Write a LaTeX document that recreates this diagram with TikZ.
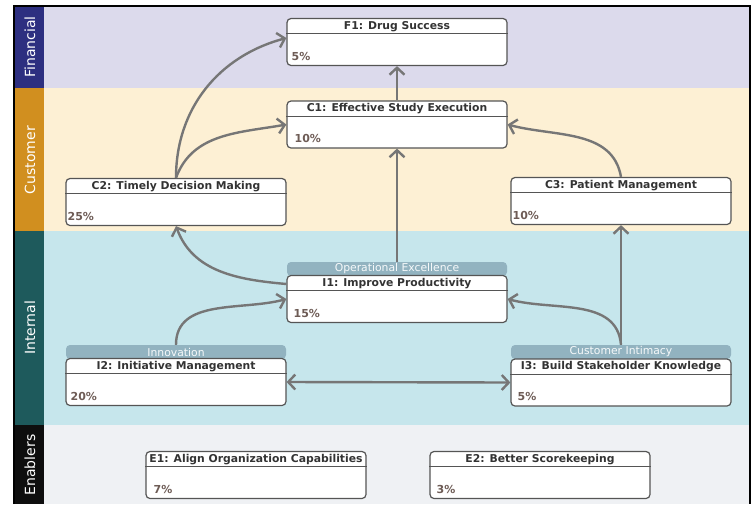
\documentclass[tikz,border=0pt]{standalone}
\usepackage{fontspec}
\setmainfont{DejaVu Sans}
\usetikzlibrary{arrows.meta}

\definecolor{finbg}{HTML}{DCDAEC}
\definecolor{cusbg}{HTML}{FDF0D4}
\definecolor{intbg}{HTML}{C6E6EC}
\definecolor{enabg}{HTML}{EFF1F4}
\definecolor{finbar}{HTML}{2D2F80}
\definecolor{cusbar}{HTML}{D18F1F}
\definecolor{intbar}{HTML}{1E5A5C}
\definecolor{enabar}{HTML}{0E0E0E}
\definecolor{hdrfill}{HTML}{92B3C0}
\definecolor{boxedge}{HTML}{555555}
\definecolor{arrgray}{HTML}{767676}
\definecolor{valtxt}{HTML}{6E5C56}

% one objective: box, title row, value
\newcommand{\kpibox}[6]{%
  \node[kpi] (#1) at (#2,#3) {};
  \draw[boxedge, line width=1pt] ([yshift=-16pt]#1.north west) -- ([yshift=-16pt]#1.north east);
  \node[ttl] (#1t) at ([yshift=-8.5pt]#1.north) {#4};
  \node[val] (#1v) at ([xshift=#6pt,yshift=10pt]#1.south west) {#5};
}

\begin{document}
\begin{tikzpicture}[x=1pt, y=1pt]

        \tikzstyle{every edge}=[
            draw = arrgray,
            line width = 2.4pt,
            -{Straight Barb[length=7pt, width=15pt]}
        ]
        \tikzset{kpi/.style={draw=boxedge, line width=1.2pt, fill=white,
            rounded corners=4pt, minimum width=220pt, minimum height=47pt, inner sep=0pt}}
        \tikzset{ttl/.style={font=\bfseries\fontsize{10.8}{13}\selectfont, text=black!80, inner sep=0pt}}
        \tikzset{val/.style={font=\bfseries\fontsize{11}{13}\selectfont, text=valtxt, anchor=west, inner sep=0pt}}
        \tikzset{hdr/.style={fill=hdrfill, rounded corners=4pt, minimum width=220pt,
            minimum height=14pt, inner sep=0pt, text=white!92!hdrfill,
            font=\fontsize{10.8}{12}\selectfont}}
        \tikzset{lane/.style={rotate=90, text=white, font=\fontsize{14}{16}\selectfont, inner sep=0pt}}

        \useasboundingbox (0,0) rectangle (752,-504);

        % bands
        \fill[finbg] (44,-6) rectangle (750,-88);
        \fill[cusbg] (44,-88) rectangle (750,-231);
        \fill[intbg] (44,-231) rectangle (750,-425);
        \fill[enabg] (44,-425) rectangle (750,-504);
        \fill[finbar] (15,-6) rectangle (44,-88);
        \fill[cusbar] (15,-88) rectangle (44,-231);
        \fill[intbar] (15,-231) rectangle (44,-425);
        \fill[enabar] (15,-425) rectangle (44,-504);
        \draw[line width=1.5pt] (14,-504) -- (14,-6) -- (750,-6) -- (750,-504);

        \node[lane] (fin) at (30,-47) {Financial};
        \node[lane] (cus) at (30,-160) {Customer};
        \node[lane] (int) at (30,-328) {Internal};
        \node[lane] (ena) at (30,-465) {Enablers};

        % theme bars
        \node[hdr] (i1h) at (397,-269) {Operational Excellence};
        \node[hdr] (i2h) at (176,-352) {Innovation};
        \node[hdr] (i3h) at (621,-352) {Customer Intimacy};

        % objectives
        \kpibox{f1}{397}{-42}{F1: Drug Success}{5\%}{5}
        \kpibox{c1}{397}{-124.5}{C1: Effective Study Execution}{10\%}{8}
        \kpibox{c2}{176}{-202}{C2: Timely Decision Making}{25\%}{2}
        \kpibox{c3}{621}{-201}{C3: Patient Management}{10\%}{2}
        \kpibox{i1}{397}{-299}{I1: Improve Productivity}{15\%}{7}
        \kpibox{i2}{176}{-382}{I2: Initiative Management}{20\%}{5}
        \kpibox{i3}{621}{-382.5}{I3: Build Stakeholder Knowledge}{5\%}{7}
        \kpibox{e1}{256}{-475}{E1: Align Organization Capabilities}{7\%}{8}
        \kpibox{e2}{540}{-475}{E2: Better Scorekeeping}{3\%}{7}

        \path
        (c1.north) edge (f1.south)
        (i1h.north) edge (c1.south)
        (c2.north) edge[out=90, in=195] ([yshift=4pt]f1.west)
        (c2.north) edge[out=70, in=190] (c1.west)
        (c3.north) edge[out=100, in=-15] (c1.east)
        ([yshift=15pt]i1.west) edge[out=175, in=-70] (c2.south)
        (i2h.north) edge[out=90, in=195] (i1.west)
        (i3h.north) edge[out=95, in=-15] (i1.east)
        (i3h.north) edge (c3.south)
        (i2.east) edge[{Straight Barb[length=7pt, width=15pt]}-{Straight Barb[length=7pt, width=15pt]}] (i3.west)
        ;
    \end{tikzpicture}
\end{document}
